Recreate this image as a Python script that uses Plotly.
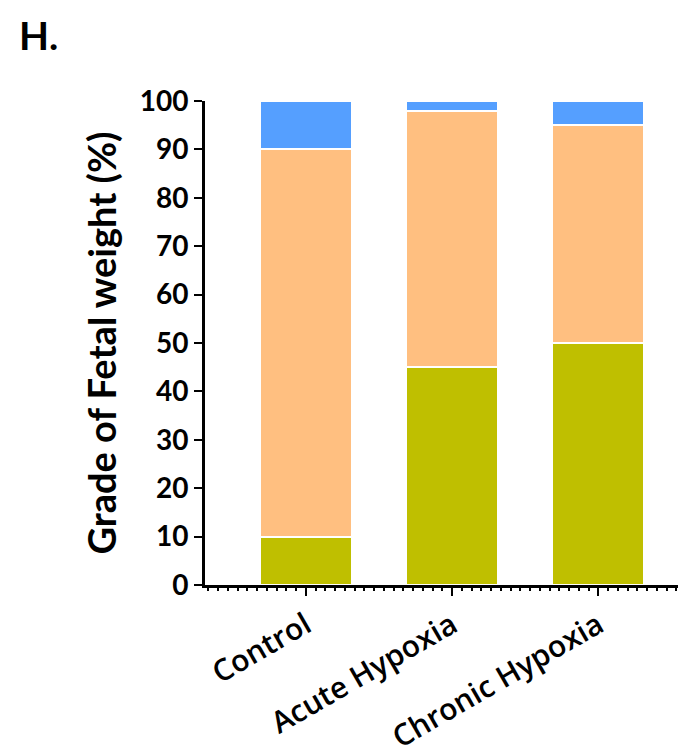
import plotly.graph_objects as go

categories = ["Control", "Acute Hypoxia", "Chronic Hypoxia"]
grade_low = [10, 45, 50]
grade_mid = [80, 53, 45]
grade_high = [10, 2, 5]
colors = ["#BFBF00", "#FFBF80", "#559FFF"]
y_ticks = list(range(0, 101, 10))

xpos = list(range(len(categories)))
fig = go.Figure()
for vals, col in zip([grade_low, grade_mid, grade_high], colors):
    fig.add_trace(go.Bar(x=xpos, y=vals, marker=dict(color=col, line=dict(color="white", width=2)),
                         width=0.63, showlegend=False))

FONT = "Lato"
fig.update_layout(
    barmode="stack",
    width=678, height=748,
    margin=dict(l=197, r=0, t=93, b=171),
    plot_bgcolor="white", paper_bgcolor="white",
    font=dict(family=FONT, color="black"),
    xaxis=dict(range=[-0.69, 2.6], tickvals=xpos, ticktext=categories, tickangle=-30, automargin=False,
               showline=True, linecolor="black", linewidth=3, ticks="outside", ticklen=8, tickwidth=2,
               tickcolor="black", showgrid=False, zeroline=False,
               tickfont=dict(family="Open Sans", size=30, color="black", weight=600),
               minor=dict(ticks="outside", dtick=1/15, tick0=0, ticklen=3, tickwidth=2, tickcolor="black", showgrid=False)),
    yaxis=dict(range=[0, 100], tickvals=y_ticks, showline=True, linecolor="black", linewidth=3, automargin=False,
               ticks="outside", ticklen=8, tickwidth=2, tickcolor="black", showgrid=False, zeroline=False,
               tickfont=dict(family=FONT, size=28, color="black", weight="bold"),
               title=dict(text="Grade of Fetal weight (%)", standoff=12,
                          font=dict(family=FONT, size=38, color="black", weight="bold"))),
)
fig.add_annotation(text="<b>H.</b>", xref="paper", yref="paper", x=-187/481, y=1 + 66/484,
                   xanchor="left", yanchor="middle", showarrow=False, borderpad=0,
                   font=dict(family=FONT, size=39, color="black"))
fig.write_html("out.html")
